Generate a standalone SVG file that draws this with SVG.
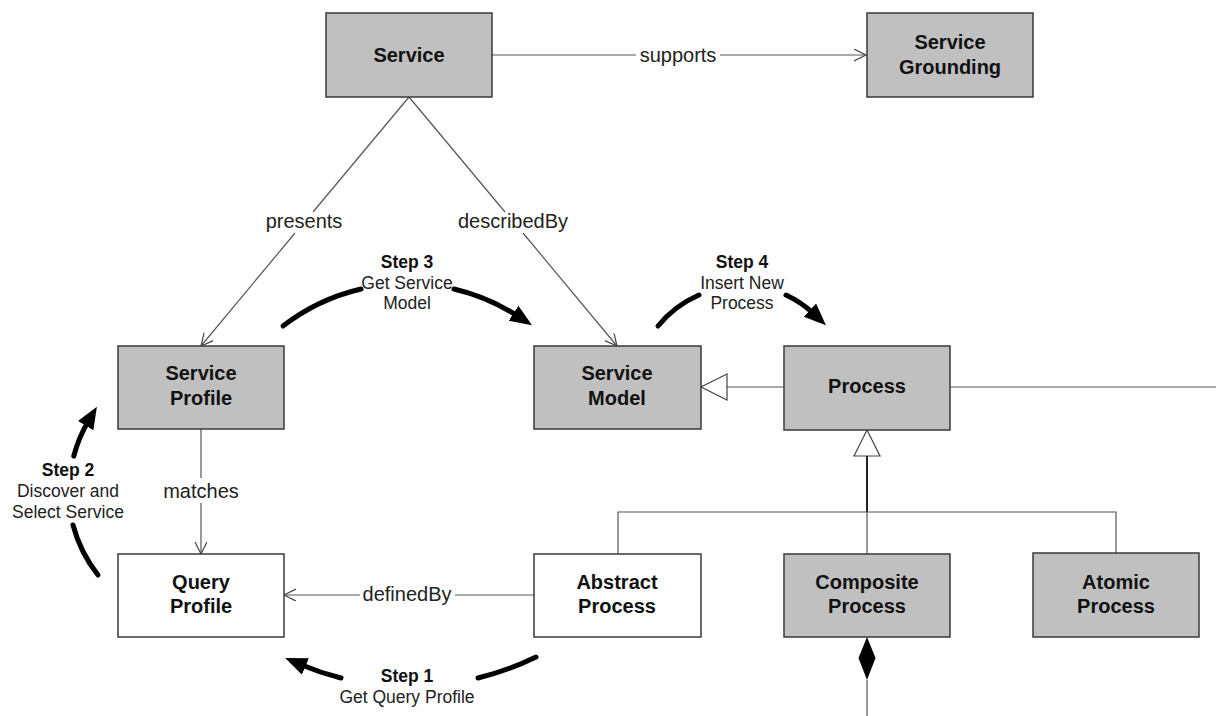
<svg xmlns="http://www.w3.org/2000/svg" width="1216" height="716" viewBox="0 0 1216 716">
<style>
.box{stroke:#3a3a3a;stroke-width:1.5}
.g{fill:#c0c0c0}
.w{fill:#ffffff}
.bt{font-family:"Liberation Sans",Arial,sans-serif;font-size:20px;font-weight:bold;fill:#111;text-anchor:middle}
.lbl{font-family:"Liberation Sans",Arial,sans-serif;font-size:20px;fill:#222;text-anchor:middle}
.st{font-family:"Liberation Sans",Arial,sans-serif;font-size:17.5px;fill:#222;text-anchor:middle}
.stb{font-weight:bold;fill:#111}
.ln{stroke:#555;stroke-width:1.2;fill:none}
.thick{stroke:#000;stroke-width:5;fill:none;stroke-linecap:round}
</style>
<defs>
<marker id="open" markerUnits="userSpaceOnUse" markerWidth="16" markerHeight="16" refX="12" refY="6" orient="auto">
<path d="M0,0 L12,6 L0,12" fill="none" stroke="#444" stroke-width="1.2"/>
</marker>
<marker id="bold" markerUnits="userSpaceOnUse" markerWidth="26" markerHeight="22" refX="6" refY="9" orient="auto">
<path d="M0,0 L22,9 L0,18 z" fill="#000"/>
</marker>
</defs>
<rect width="1216" height="716" fill="#fff"/>

<g id="connectors">
<path class="ln" d="M492,55 H636"/>
<path class="ln" d="M720,55 H866" marker-end="url(#open)"/>
<text class="lbl" x="678" y="62">supports</text>

<path class="ln" d="M409,97 L313,212"/>
<path class="ln" d="M295,233 L201,346" marker-end="url(#open)"/>
<text class="lbl" x="304" y="228">presents</text>

<path class="ln" d="M409,97 L505,212"/>
<path class="ln" d="M523,233 L617,346" marker-end="url(#open)"/>
<text class="lbl" x="513" y="228">describedBy</text>

<path class="ln" d="M201,429 V478"/>
<path class="ln" d="M201,503 V554" marker-end="url(#open)"/>
<text class="lbl" x="201" y="498">matches</text>

<path class="ln" d="M534,595 H455"/>
<path class="ln" d="M360,595 H284" marker-end="url(#open)"/>
<text class="lbl" x="407" y="601">definedBy</text>

<path class="ln" d="M784,387 H727"/>
<path d="M727,374 L701,387 L727,400 z" fill="#fff" stroke="#444" stroke-width="1.2"/>
<path class="ln" d="M950,387 H1216"/>

<path d="M854,456 L867,430 L880,456 z" fill="#fff" stroke="#444" stroke-width="1.2"/>
<path d="M867,456 V512" stroke="#222" stroke-width="2" fill="none"/>
<path class="ln" d="M618,554 V512 H1116 V553"/>
<path class="ln" d="M867,512 V554"/>

<path d="M867,637 L875.5,658 L867,680 L858.5,658 z" fill="#000"/>
<path class="ln" d="M867,680 V716"/>
</g>

<g id="steps">
<path class="thick" d="M283,326 A204,204 0 0 1 361,289"/>
<path class="thick" d="M454,289 A204,204 0 0 1 518.6,316.6" marker-end="url(#bold)"/>
<text class="st stb" x="407" y="268">Step 3</text>
<text class="st" x="407" y="289">Get Service</text>
<text class="st" x="407" y="309">Model</text>

<path class="thick" d="M658,326 A108,108 0 0 1 699,295"/>
<path class="thick" d="M786,295 A108,108 0 0 1 814.3,314.2" marker-end="url(#bold)"/>
<text class="st stb" x="742" y="268">Step 4</text>
<text class="st" x="742" y="289">Insert New</text>
<text class="st" x="742" y="309">Process</text>

<path class="thick" d="M98,575 A136.8,136.8 0 0 1 73,525"/>
<path class="thick" d="M73.8,456 A136.8,136.8 0 0 1 88.7,420.5" marker-end="url(#bold)"/>
<text class="st stb" x="68" y="476">Step 2</text>
<text class="st" x="68" y="497">Discover and</text>
<text class="st" x="68" y="518">Select Service</text>

<path class="thick" d="M536,657 A286.6,286.6 0 0 1 478,678"/>
<path class="thick" d="M341,678 A286.6,286.6 0 0 1 299.9,664.2" marker-end="url(#bold)"/>
<text class="st stb" x="407" y="682">Step 1</text>
<text class="st" x="407" y="703">Get Query Profile</text>
</g>

<g id="service">
<rect class="box g" x="326" y="13" width="166" height="84"/>
<text class="bt" x="409" y="62">Service</text>
</g>
<g id="service-grounding">
<rect class="box g" x="867" y="13" width="166" height="84"/>
<text class="bt" x="950" y="49">Service</text>
<text class="bt" x="950" y="74">Grounding</text>
</g>
<g id="service-profile">
<rect class="box g" x="118" y="346" width="166" height="83"/>
<text class="bt" x="201" y="380">Service</text>
<text class="bt" x="201" y="405">Profile</text>
</g>
<g id="service-model">
<rect class="box g" x="534" y="346" width="167" height="83"/>
<text class="bt" x="617" y="380">Service</text>
<text class="bt" x="617" y="405">Model</text>
</g>
<g id="process">
<rect class="box g" x="784" y="346" width="166" height="84"/>
<text class="bt" x="867" y="393">Process</text>
</g>
<g id="query-profile">
<rect class="box w" x="118" y="554" width="166" height="83"/>
<text class="bt" x="201" y="589">Query</text>
<text class="bt" x="201" y="613">Profile</text>
</g>
<g id="abstract-process">
<rect class="box w" x="534" y="554" width="167" height="83"/>
<text class="bt" x="617" y="589">Abstract</text>
<text class="bt" x="617" y="613">Process</text>
</g>
<g id="composite-process">
<rect class="box g" x="784" y="554" width="166" height="83"/>
<text class="bt" x="867" y="589">Composite</text>
<text class="bt" x="867" y="613">Process</text>
</g>
<g id="atomic-process">
<rect class="box g" x="1033" y="553" width="166" height="84"/>
<text class="bt" x="1116" y="589">Atomic</text>
<text class="bt" x="1116" y="613">Process</text>
</g>
</svg>
